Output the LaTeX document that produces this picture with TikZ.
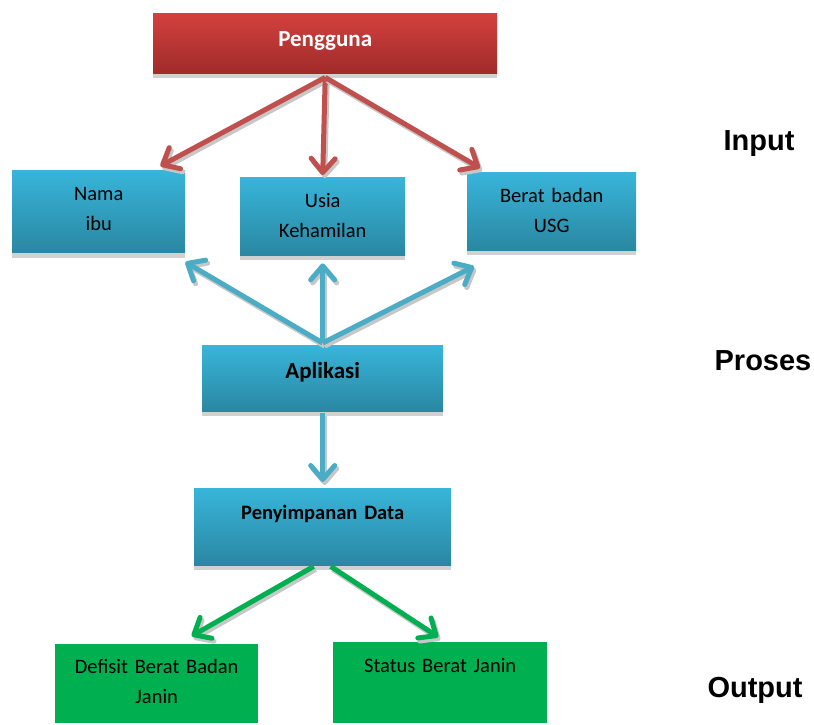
\documentclass[tikz,border=0pt]{standalone}
\usepackage{fontspec}
\setmainfont{Carlito}
\newfontfamily\arialfont{Liberation Sans}
\usetikzlibrary{arrows.meta,shadows,positioning}

\definecolor{redtop}{HTML}{D3413E}
\definecolor{redbot}{HTML}{9F2B2A}
\definecolor{bluetop}{HTML}{38B5DA}
\definecolor{bluebot}{HTML}{2A87A2}
\definecolor{outgreen}{HTML}{00B050}
\definecolor{redline}{HTML}{C0504D}
\definecolor{blueline}{HTML}{4BACC6}

\begin{document}
\begin{tikzpicture}[x=1pt, y=-1pt,
  box/.style={rectangle, inner sep=0pt, align=center, anchor=north west},
  userbox/.style={box, top color=redtop, bottom color=redbot, text=white,
    font=\bfseries\fontsize{23}{30}\selectfont,
    drop shadow={shadow xshift=0pt, shadow yshift=-5pt, fill=black!18, opacity=1}},
  inputbox/.style={box, top color=bluetop, bottom color=bluebot,
    font=\fontsize{20.5}{30}\selectfont,
    drop shadow={shadow xshift=0pt, shadow yshift=-5pt, fill=black!18, opacity=1}},
  processbox/.style={inputbox, font=\bfseries\fontsize{23}{30}\selectfont},
  outputbox/.style={box, fill=outgreen, font=\fontsize{20.5}{30}\selectfont},
  sidelabel/.style={anchor=base, font=\arialfont\bfseries\fontsize{29}{34}\selectfont},
  arrow/.style={line width=5pt, -{Straight Barb[round, length=14pt, width=24pt]},
    preaction={draw=black!22, line width=5pt, -{Straight Barb[round, length=14pt, width=24pt]},
      transform canvas={xshift=2pt, yshift=-3pt}}},
  redarrow/.style={arrow, draw=redline},
  bluearrow/.style={arrow, draw=blueline},
  greenarrow/.style={arrow, draw=outgreen}
]
  \useasboundingbox (0,0) rectangle (814,724);

  \node (pengguna) [userbox, text width=344pt, text height=33.7pt, text depth=26.3pt] at (153,13) {Pengguna};

  \node (nama) [inputbox, text width=173pt, text height=30pt, text depth=52.7pt] at (12,170) {Nama\\ibu};
  \node (usia) [inputbox, text width=165pt, text height=30pt, text depth=48pt] at (240,177) {Usia\\Kehamilan};
  \node (berat) [inputbox, text width=169pt, text height=30.7pt, text depth=47.3pt] at (467,172) {Berat badan\\USG};

  \node (aplikasi) [processbox, text width=241pt, text height=33.3pt, text depth=32.7pt] at (202,345) {Aplikasi};
  \node (simpan) [processbox, font=\bfseries\fontsize{20.5}{30}\selectfont, text width=257pt, text height=31pt, text depth=46pt] at (194,488) {Penyimpanan Data};

  \node (defisit) [outputbox, text width=203pt, text height=29pt, text depth=50pt] at (55,644) {Defisit Berat Badan\\Janin};
  \node (status) [outputbox, text width=214pt, text height=30pt, text depth=51pt] at (333,642) {Status Berat Janin};

  \node (input) [sidelabel] at (759,150) {Input};
  \node (proses) [sidelabel] at (763,370) {Proses};
  \node (output) [sidelabel] at (755,697) {Output};

  % pengguna ke input
  \draw [redarrow] ([shift={(0,4)}]pengguna.south) -- ([shift={(-25,-4)}]nama.north east);
  \draw [redarrow] ([shift={(0,4)}]pengguna.south) -- ([shift={(0,-2)}]usia.north);
  \draw [redarrow] ([shift={(0,4)}]pengguna.south) -- ([shift={(13,-4)}]berat.north west);

  % aplikasi ke input
  \draw [bluearrow] ([shift={(0,-2)}]aplikasi.north) -- ([shift={(0,9)}]nama.south east);
  \draw [bluearrow] ([shift={(0,-2)}]aplikasi.north) -- ([shift={(0,8)}]usia.south);
  \draw [bluearrow] ([shift={(0,-2)}]aplikasi.north) -- ([shift={(7,16)}]berat.south west);
  \draw [bluearrow] ([shift={(0,2)}]aplikasi.south) -- ([shift={(0,-6)}]simpan.north);

  % penyimpanan ke output
  \draw [greenarrow] ([shift={(-9,1)}]simpan.south) -- ([shift={(35,-8)}]defisit.north);
  \draw [greenarrow] ([shift={(8,1)}]simpan.south) -- ([shift={(-2,-5)}]status.north);
\end{tikzpicture}
\end{document}
